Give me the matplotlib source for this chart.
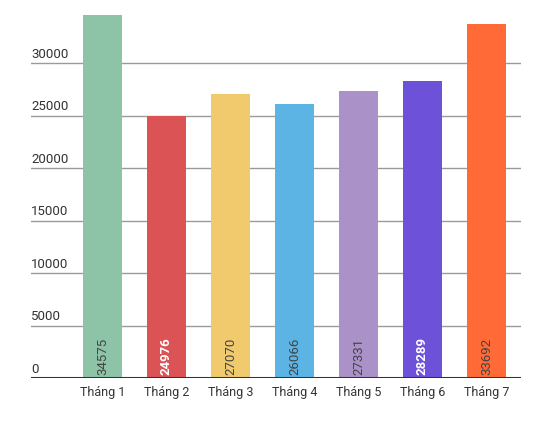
import matplotlib
matplotlib.use('Agg')
import matplotlib.pyplot as plt
import matplotlib.transforms as mtransforms
import numpy as np

plt.rcParams['font.family'] = ['Roboto', 'DejaVu Sans']

# data
labels = ['Tháng 1', 'Tháng 2', 'Tháng 3', 'Tháng 4', 'Tháng 5', 'Tháng 6', 'Tháng 7']
values = [34575, 24976, 27070, 26066, 27331, 28289, 33692]
colors = ['#8DC3A7', '#DC5356', '#F0CA6D', '#5CB4E5', '#AA91C8', '#6E51D9', '#FF6A36']
label_white = [False, True, False, False, False, True, False]
yticks = [0, 5000, 10000, 15000, 20000, 25000, 30000]

fig = plt.figure(figsize=(5.51, 4.31), dpi=100)
ax = fig.add_axes([31/551, 52/431, 490/551, 379/431])

x = np.arange(len(labels))
width = 0.61

ax.bar(x, values, width, color=colors, zorder=2)

ax.set_xlim(-1.117, 6.54)
ax.set_ylim(0, 379 / 52.5 * 5000)

# grid lines + labels sitting on top of them
trans = mtransforms.blended_transform_factory(ax.transAxes, ax.transData)
for t in yticks[1:]:
    ax.axhline(t, color='#9a9a9a', linewidth=1, zorder=1)
for t in yticks:
    ax.text(0.0, t + 300, str(t), transform=trans, ha='left', va='bottom',
            fontsize=9.5, color='#333333')

ax.axhline(0, color='#333333', linewidth=2.2, zorder=3)

# value labels at bottom of each bar
for xi, v, w in zip(x, values, label_white):
    ax.text(xi, 400, str(v), rotation=90, ha='center', va='bottom',
            fontsize=9.5, color='white' if w else '#444444',
            fontweight='bold' if w else 'normal', zorder=4)

ax.set_xticks(x)
ax.set_xticklabels(labels, fontsize=9, color='#333333')
ax.tick_params(axis='x', length=0, pad=5)
ax.set_yticks([])
for s in ax.spines.values():
    s.set_visible(False)

fig.savefig('out.png', dpi=100)
